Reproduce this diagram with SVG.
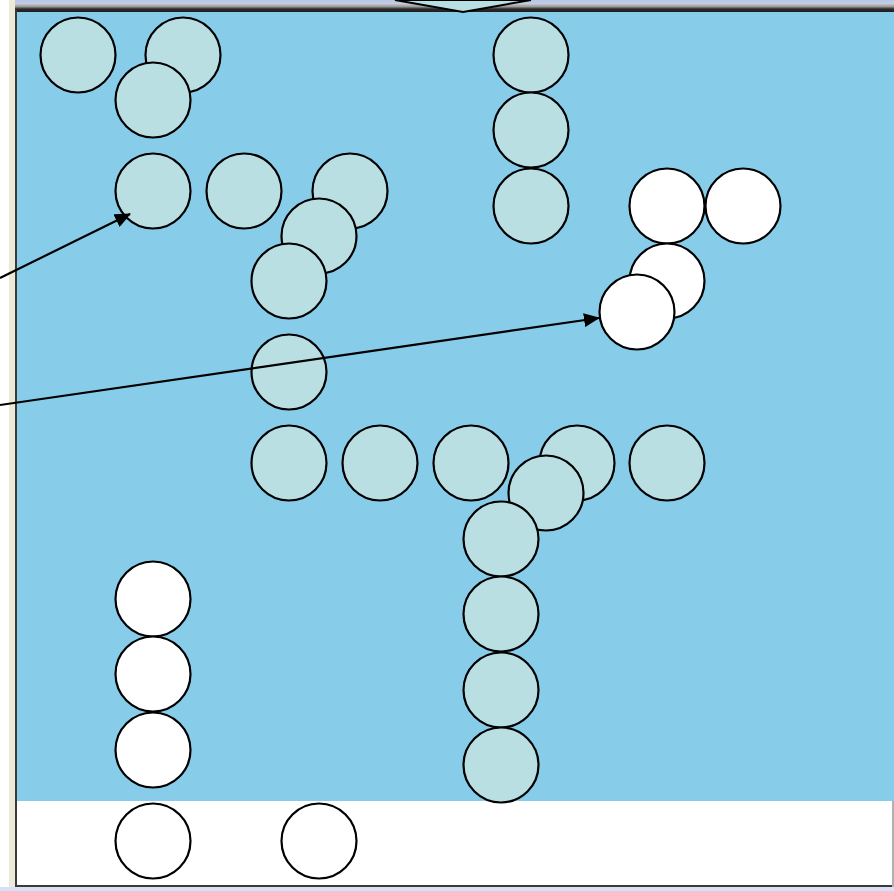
<svg xmlns="http://www.w3.org/2000/svg" width="894" height="891" viewBox="0 0 894 891">
<defs>
<style>
.c{fill:#BADFE3;stroke:#000;stroke-width:2.2}
.w{fill:#FFFFFF;stroke:#000;stroke-width:2.2}
.e{stroke:#000;stroke-width:2.2;fill:none;marker-end:url(#ah)}
</style>
<marker id="ah" markerWidth="16" markerHeight="14" refX="15" refY="7" orient="auto" markerUnits="userSpaceOnUse" viewBox="0 0 16 14">
<path d="M0,0 L16,7 L0,14 z" fill="#000"/>
</marker>
<linearGradient id="tg" x1="0" y1="0" x2="0" y2="1">
<stop offset="0" stop-color="#B2C6F2"/>
<stop offset="0.3" stop-color="#C8CCD8"/>
<stop offset="0.55" stop-color="#9A9A9A"/>
<stop offset="0.75" stop-color="#2A2A2A"/>
<stop offset="1" stop-color="#1E1E1E"/>
</linearGradient>
</defs>
<rect x="0" y="0" width="894" height="891" fill="#FFFFFF"/>
<rect x="9" y="0" width="6" height="891" fill="#ECE9D8"/>
<rect x="15" y="0" width="879" height="12" fill="url(#tg)"/>
<rect x="17" y="12" width="877" height="789" fill="#87CDEA"/>
<rect x="17" y="801" width="875" height="84" fill="#FFFFFF"/>
<rect x="15" y="10" width="2" height="877" fill="#3A3A3A"/>
<rect x="15" y="885" width="879" height="2" fill="#3A3A3A"/>
<rect x="892" y="801" width="2" height="86" fill="#B0B0B0"/>
<rect x="0" y="887" width="894" height="4" fill="#D8E0F8"/>
<polygon points="395,0 463,12 531,0" fill="#BADFE3" stroke="#000" stroke-width="2"/>
<g id="n1"><circle class="c" cx="78" cy="55" r="37.5"/></g>
<g id="n2"><circle class="c" cx="183" cy="55" r="37.5"/></g>
<g id="n3"><circle class="c" cx="153" cy="100" r="37.5"/></g>
<g id="n4"><circle class="c" cx="531" cy="55" r="37.5"/></g>
<g id="n5"><circle class="c" cx="531" cy="130" r="37.5"/></g>
<g id="n6"><circle class="c" cx="531" cy="206" r="37.5"/></g>
<g id="n7"><circle class="c" cx="153" cy="191" r="37.5"/></g>
<g id="n8"><circle class="c" cx="244" cy="191" r="37.5"/></g>
<g id="n9"><circle class="c" cx="350" cy="191" r="37.5"/></g>
<g id="n10"><circle class="c" cx="319" cy="236" r="37.5"/></g>
<g id="n11"><circle class="c" cx="289" cy="281" r="37.5"/></g>
<g id="n12"><circle class="c" cx="289" cy="372" r="37.5"/></g>
<g id="n13"><circle class="w" cx="667" cy="206" r="37.5"/></g>
<g id="n14"><circle class="w" cx="743" cy="206" r="37.5"/></g>
<g id="n15"><circle class="w" cx="667" cy="281" r="37.5"/></g>
<g id="n16"><circle class="w" cx="637" cy="312" r="37.5"/></g>
<g id="n17"><circle class="c" cx="289" cy="463" r="37.5"/></g>
<g id="n18"><circle class="c" cx="380" cy="463" r="37.5"/></g>
<g id="n19"><circle class="c" cx="471" cy="463" r="37.5"/></g>
<g id="n20"><circle class="c" cx="577" cy="463" r="37.5"/></g>
<g id="n21"><circle class="c" cx="667" cy="463" r="37.5"/></g>
<g id="n22"><circle class="c" cx="546" cy="493" r="37.5"/></g>
<g id="n23"><circle class="c" cx="501" cy="539" r="37.5"/></g>
<g id="n24"><circle class="c" cx="501" cy="614" r="37.5"/></g>
<g id="n25"><circle class="c" cx="501" cy="690" r="37.5"/></g>
<g id="n26"><circle class="c" cx="501" cy="765" r="37.5"/></g>
<g id="n27"><circle class="w" cx="153" cy="599" r="37.5"/></g>
<g id="n28"><circle class="w" cx="153" cy="674" r="37.5"/></g>
<g id="n29"><circle class="w" cx="153" cy="750" r="37.5"/></g>
<g id="n30"><circle class="w" cx="153" cy="841" r="37.5"/></g>
<g id="n31"><circle class="w" cx="319" cy="841" r="37.5"/></g>
<g id="connectors">
<line class="e" x1="0" y1="278" x2="130" y2="214"/>
<line class="e" x1="0" y1="405" x2="599" y2="318"/>
</g>
</svg>
